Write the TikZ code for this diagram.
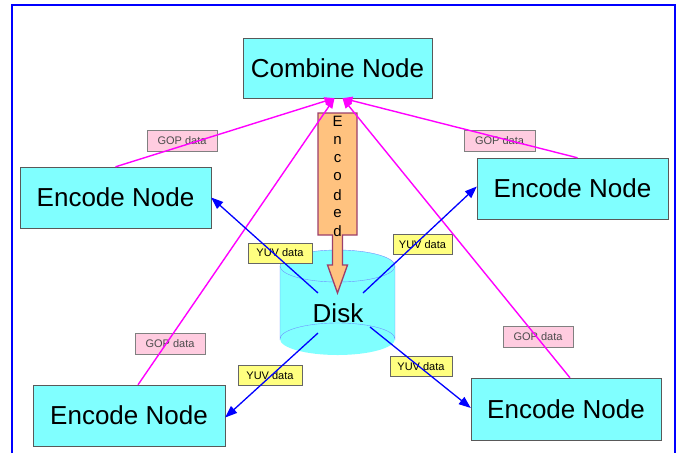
\documentclass[tikz,border=0pt]{standalone}
\usepackage{fontspec}
\setmainfont{Liberation Sans}
\usetikzlibrary{arrows.meta}

\definecolor{boxcyan}{HTML}{80FFFF}
\definecolor{diskedge}{HTML}{6F8FFF}
\definecolor{arroworange}{HTML}{FFC27F}
\definecolor{arrowedge}{HTML}{9C3F6A}
\definecolor{goppink}{HTML}{FFCCE0}
\definecolor{yuvyellow}{HTML}{FFFF80}
\definecolor{gopmagenta}{HTML}{FF00FF}

\begin{document}
\begin{tikzpicture}[x=1pt,y=-1pt,
	bignode/.style={draw=gray!70!black, fill=boxcyan, inner sep=0pt, font=\fontsize{26}{30}\selectfont},
	gopbox/.style={draw=gray, fill=goppink, inner sep=0pt, minimum height=21, font=\fontsize{11}{12}\selectfont, text=black!70},
	yuvbox/.style={draw=gray!80!black, fill=yuvyellow, inner sep=0pt, minimum height=20, font=\fontsize{11}{12}\selectfont},
	gopline/.style={gopmagenta, line width=1.4, -{Triangle[length=10pt,width=8pt]}},
	yuvline/.style={blue, line width=1.3, -{Triangle[length=12pt,width=9pt]}}]
	\useasboundingbox (0,0) rectangle (685,453);
	\fill[white] (0,0) rectangle (685,453);
	\draw[blue, line width=2.6] (12,453)--(12,5)--(675,5)--(675,453);
	
	% boxes
	\node[bignode, minimum width=189, minimum height=60] (comb) at (337.5,68) {Combine Node};
	\node[bignode, minimum width=191, minimum height=61] (enc1) at (115.5,197.5) {Encode Node};
	\node[bignode, minimum width=191, minimum height=61] (enc2) at (572.5,188.5) {Encode Node};
	\node[bignode, minimum width=192, minimum height=61] (enc3) at (129,415.5) {Encode Node};
	\node[bignode, minimum width=190, minimum height=62] (enc4) at (566,409) {Encode Node};
	
	% disk
	\fill[boxcyan] (280,266) rectangle (395,339);
	\fill[boxcyan] (337.5,339) ellipse (57.5 and 16);
	\draw[diskedge] (280,266)--(280,339) arc[start angle=180, end angle=360, x radius=57.5, y radius=16]--(395,266);
	\draw[diskedge, fill=boxcyan] (337.5,266) ellipse (57.5 and 16);
	\node[inner sep=0pt, font=\fontsize{26}{30}\selectfont] (disk) at (338,313) {Disk};
	
	% encoded arrow
	\draw[arrowedge, fill=arroworange, line width=1.3, line join=miter]
		(318,113)--(357,113)--(357,235)--(342.5,235)--(342.5,265)--(347.5,265)--(337.5,293)
		--(327.5,265)--(332.5,265)--(332.5,235)--(318,235)--cycle;
	\foreach \ch [count=\i] in {E,n,c,o,d,e,d} {
		\node[inner sep=0pt, font=\fontsize{15}{16}\selectfont] (enc\ch\i) at (337.5,{103.5+18.3*\i}) {\ch};
	}
	
	% labels
	\node[gopbox, minimum width=70] (gop1) at (182,140.5) {GOP data};
	\node[gopbox, minimum width=71] (gop2) at (499.5,140.5) {GOP data};
	\node[gopbox, minimum width=70] (gop3) at (170,344) {GOP data};
	\node[gopbox, minimum width=70] (gop4) at (538,336.5) {GOP data};
	\node[yuvbox, minimum width=64] (yuv1) at (280,253) {YUV data};
	\node[yuvbox, minimum width=59] (yuv2) at (422.5,244.5) {YUV data};
	\node[yuvbox, minimum width=64] (yuv3) at (270,375.5) {YUV data};
	\node[yuvbox, minimum width=62] (yuv4) at (421,366.5) {YUV data};
	
	% GOP data to the combine node
	\coordinate (gin1) at ([xshift=-3pt]comb.south);
	\coordinate (gin2) at ([xshift=5pt]comb.south);
	\draw[gopline] (enc1.north) -- (gin1);
	\draw[gopline] ([xshift=9pt]enc3.north) -- (gin1);
	\draw[gopline] ([xshift=5pt]enc2.north) -- (gin2);
	\draw[gopline] ([xshift=4pt]enc4.north) -- (gin2);
	
	% YUV data from the disk
	\coordinate (dout1) at (318,293);
	\coordinate (dout2) at (363,293);
	\coordinate (dout3) at (318,333);
	\coordinate (dout4) at (370,327);
	\draw[yuvline] (dout1) -- (enc1.east);
	\draw[yuvline] (dout2) -- ([yshift=2pt]enc2.west);
	\draw[yuvline] (dout3) -- ([yshift=-2pt]enc3.east);
	\draw[yuvline] (dout4) -- ([yshift=1pt]enc4.west);
\end{tikzpicture}
\end{document}
